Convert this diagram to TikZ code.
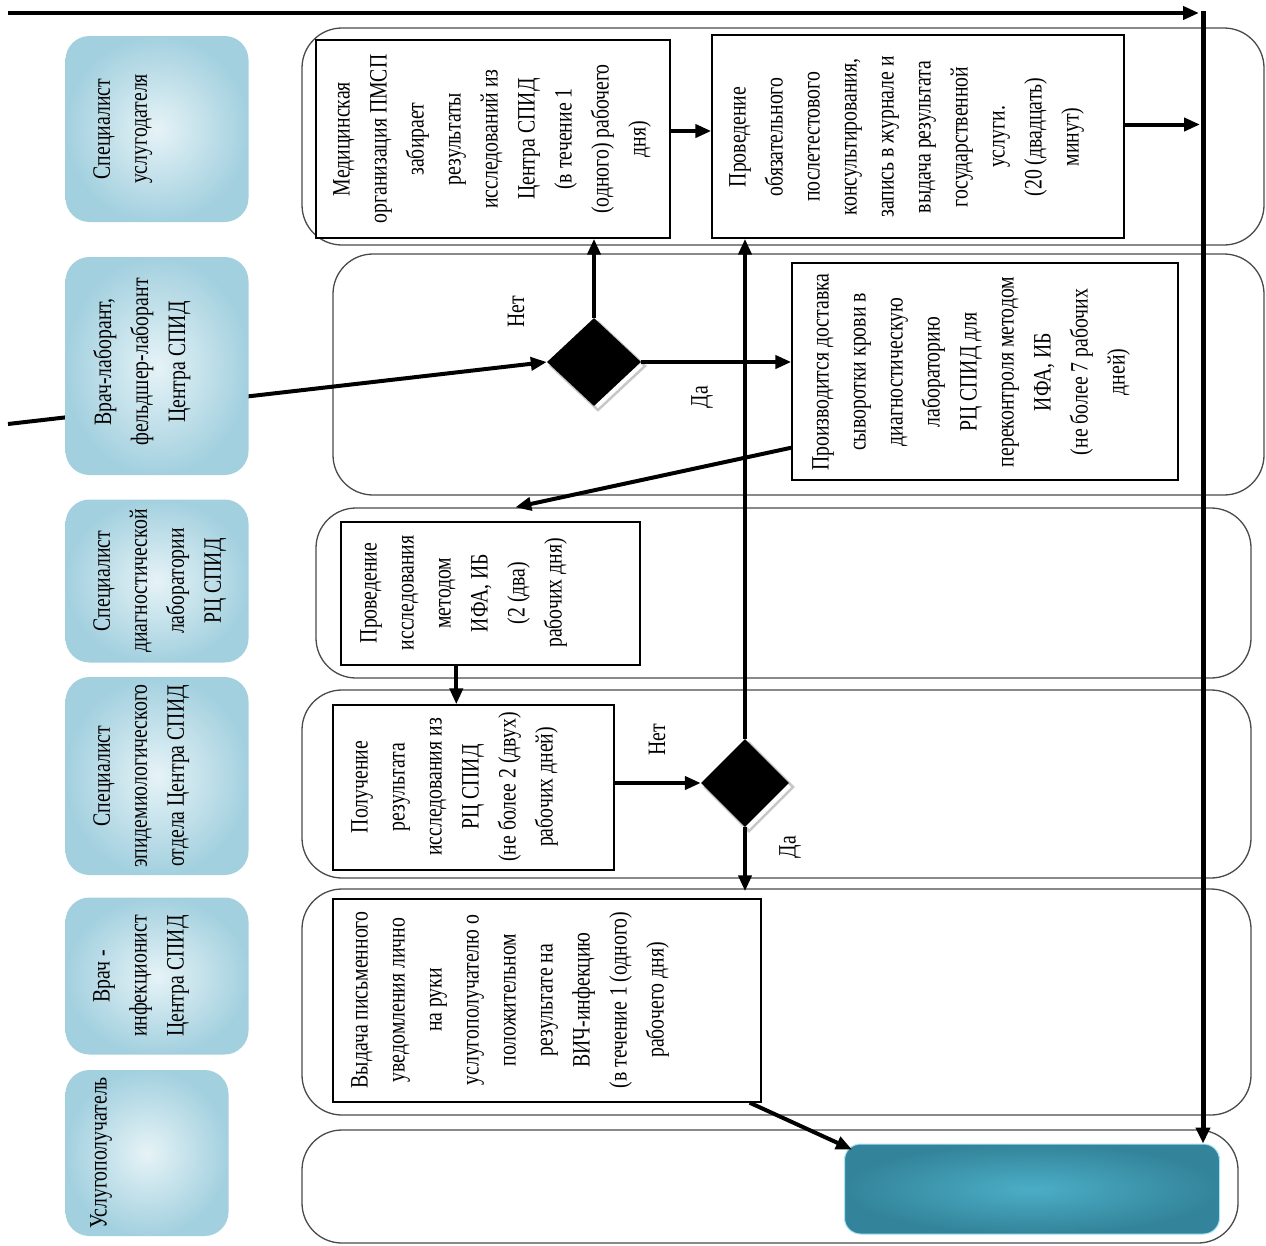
\documentclass[tikz,border=0pt]{standalone}
\usepackage{fontspec}
\setmainfont{Liberation Serif}[FakeStretch=0.79]
\usetikzlibrary{arrows.meta,shapes.geometric,calc}
\definecolor{hdrin}{HTML}{E6F3F7}
\definecolor{hdrout}{HTML}{A3D0DF}
\definecolor{finin}{HTML}{4BAEC6}
\definecolor{finout}{HTML}{33849A}
\definecolor{laneline}{HTML}{4A4A4A}
\tikzset{
  lane/.style={draw=laneline, line width=1.3pt, rounded corners=40pt},
  hdr/.style={rectangle, rounded corners=24pt, inner color=hdrin, outer color=hdrout, inner sep=0pt},
  box/.style={draw=black, line width=1.4pt, rectangle, inner sep=0pt, fill=white},
  txt/.style={rotate=90, anchor=north, align=center, inner sep=0pt, font=\fontsize{25}{37}\selectfont},
  lbl/.style={rotate=90, inner sep=0pt, font=\fontsize{25}{37}\selectfont},
  arr/.style={line width=4pt, -{Triangle[length=16pt,width=13pt]}},
  dec/.style={diamond, fill=black, inner sep=0pt},
  decshadow/.style={draw=black!22, line width=2.5pt, fill=white},
  fin/.style={rectangle, rounded corners=16pt, inner color=finin, outer color=finout, draw=cyan!35, line width=1pt, inner sep=0pt},
}
\begin{document}
\begin{tikzpicture}[x=1pt,y=-1pt]
\useasboundingbox (0,0) rectangle (1266,1245);
\fill[white] (0,0) rectangle (1266,1245);
% lanes
\draw[lane] (302,28) rectangle (1264,245);
\draw[lane] (333,254) rectangle (1264,495);
\draw[lane] (316,508) rectangle (1251,678);
\draw[lane] (302,690) rectangle (1251,878);
\draw[lane] (302,889) rectangle (1251,1115);
\draw[lane] (302,1130) rectangle (1238,1243);
% diamond shadows
\draw[decshadow] (598,322) -- (645,366) -- (598,410) -- (551,366) -- cycle;
\draw[decshadow] (749,743) -- (793,787) -- (749,831) -- (705,787) -- cycle;
% diamonds
\node[dec, minimum width=94pt, minimum height=88pt] (D1) at (594,362) {};
\node[dec, minimum width=88pt, minimum height=88pt] (D2) at (745,783) {};
% incoming connector (behind header)
\coordinate (inL) at (8,424);
\draw[arr] (inL) -- (D1.west);
% headers
\node[hdr, minimum width=183pt, minimum height=186pt] (H1) at (157,129) {};
\node[hdr, minimum width=183pt, minimum height=218pt] (H2) at (157,366) {};
\node[hdr, minimum width=183pt, minimum height=163pt] (H3) at (157,581) {};
\node[hdr, minimum width=183pt, minimum height=198pt] (H4) at (157,776) {};
\node[hdr, minimum width=183pt, minimum height=157pt] (H5) at (157,976) {};
\node[hdr, minimum width=163pt, minimum height=166pt] (H6) at (147,1153) {};
\node[txt] (H1t) at (93,129) {Специалист\\услугодателя};
\node[txt] (H2t) at (93,362) {Врач-лаборант,\\фельдшер-лаборант\\Центра СПИД};
\node[txt] (H3t) at (93,581) {Специалист\\диагностической\\лаборатории\\РЦ СПИД};
\node[txt] (H4t) at (93,776) {Специалист\\эпидемиологического\\отдела Центра СПИД};
\node[txt] (H5t) at (93,976) {Врач -\\инфекционист\\Центра СПИД};
\node[txt] (H6t) at (90,1153) {Услугополучатель};
% boxes
\node[box, minimum width=354pt, minimum height=198pt] (A) at (493,139) {};
\node[box, minimum width=412pt, minimum height=203pt] (B) at (918,136.5) {};
\node[box, minimum width=386pt, minimum height=217pt] (C) at (985,371.5) {};
\node[box, minimum width=299pt, minimum height=143pt] (D) at (490.5,593.5) {};
\node[box, minimum width=281pt, minimum height=165pt] (E) at (473.5,787.5) {};
\node[box, minimum width=428pt, minimum height=203pt] (F) at (547,1000.5) {};
\node[fin, minimum width=375pt, minimum height=90pt] (Fin) at (1032,1189) {};
% box texts
\node[txt] (At) at (333,139) {Медицинская\\организация ПМСП\\забирает\\результаты\\исследований из\\Центра СПИД\\(в течение 1\\(одного) рабочего\\дня)};
\node[txt] (Bt) at (729,137) {Проведение\\обязательного\\послетестового\\консультирования,\\запись в журнале и\\выдача результата\\государственной\\услуги.\\(20 (двадцать)\\минут)};
\node[txt] (Ct) at (812,372) {Производится доставка\\сыворотки крови в\\диагностическую\\лабораторию\\РЦ СПИД для\\переконтроля методом\\ИФА, ИБ\\(не более 7 рабочих\\дней)};
\node[txt] (Dt) at (360,593) {Проведение\\исследования\\методом\\ИФА, ИБ\\(2 (два)\\рабочих дня)};
\node[txt] (Et) at (351,787) {Получение\\результата\\исследования из\\РЦ СПИД\\(не более 2 (двух)\\рабочих дней)};
\node[txt] (Ft) at (351,1000) {Выдача письменного\\уведомления лично\\на руки\\услугополучателю о\\положительном\\результате на\\ВИЧ-инфекцию\\(в течение 1 (одного)\\рабочего дня)};
% labels
\node[lbl] (n1) at (516,312) {Нет};
\node[lbl] (y1) at (702,397) {Да};
\node[lbl] (n2) at (657,740) {Нет};
\node[lbl] (y2) at (790,847) {Да};
% connectors
\draw[arr] (D1.north) -- (D1.north |- A.south);
\draw[arr] (D1.east) -- (D1.east -| C.west);
\draw[arr] ($(C.south west)+(0,-33)$) -- ($(D.north west)+(175,-14)$);
\draw[arr] ($(D.south west)+(116,0)$) coordinate (d5) -- (d5 |- E.north);
\draw[arr] (E.east |- D2.west) -- (D2.west);
\draw[arr] (D2.north) -- (D2.north |- B.south);
\draw[arr] (D2.south) -- ($(D2.south |- F.north)+(0,-7)$);
\draw[arr] ($(F.south east)+(-12,0)$) -- ($(Fin.north west)+(8,6)$);
\draw[arr] ($(A.east)+(0,-8)$) coordinate (a10) -- (a10 -| B.west);
\coordinate (vtop) at (1203,11);
\draw[arr] ($(B.east)+(0,-12)$) coordinate (b11) -- ($(b11 -| vtop)+(-3,0)$);
\coordinate (topL) at (8,13);
\coordinate (topR) at (1199,13);
\draw[arr] (topL) -- (topR);
\draw[line width=5pt, -{Triangle[length=16pt,width=14pt]}] (vtop) -- (vtop |- Fin.north);
\end{tikzpicture}
\end{document}
